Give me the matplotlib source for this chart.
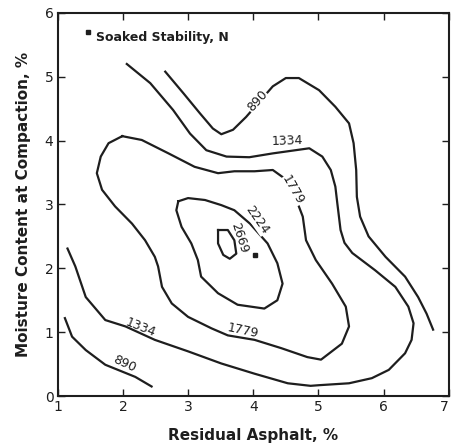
import matplotlib.pyplot as plt

# contour lines, (residual asphalt %, moisture %)
c890_upper_x = [2.65, 2.93, 3.18, 3.38, 3.51, 3.69, 3.89, 4.30, 4.50, 4.70, 5.01, 5.26, 5.47, 5.54, 5.58, 5.59, 5.64, 5.77, 6.03, 6.33, 6.53, 6.66, 6.76]
c890_upper_y = [5.08, 4.74, 4.43, 4.19, 4.10, 4.17, 4.37, 4.85, 4.98, 4.98, 4.79, 4.53, 4.27, 3.96, 3.54, 3.12, 2.81, 2.50, 2.18, 1.87, 1.55, 1.29, 1.04]

c890_lower_x = [1.11, 1.22, 1.43, 1.73, 2.19, 2.44]
c890_lower_y = [1.22, 0.93, 0.72, 0.49, 0.30, 0.15]

c1334_x = [2.06, 2.42, 2.77, 3.03, 3.28, 3.59, 3.94, 4.30, 4.86, 5.06, 5.19, 5.26, 5.29, 5.34, 5.40, 5.52, 5.87, 6.18, 6.38, 6.46, 6.43, 6.33, 6.08, 5.82, 5.47, 5.01, 4.88, 4.53, 4.02, 3.51, 3.00, 2.49, 2.04, 1.73, 1.43, 1.27, 1.15]
c1334_y = [5.20, 4.90, 4.48, 4.11, 3.85, 3.75, 3.74, 3.80, 3.88, 3.75, 3.54, 3.28, 3.02, 2.60, 2.40, 2.24, 1.97, 1.71, 1.40, 1.14, 0.88, 0.67, 0.41, 0.28, 0.20, 0.17, 0.16, 0.20, 0.35, 0.51, 0.70, 0.88, 1.09, 1.19, 1.55, 2.03, 2.31]

c1779_x = [1.99, 1.78, 1.66, 1.60, 1.68, 1.88, 2.14, 2.34, 2.49, 2.54, 2.60, 2.75, 3.00, 3.36, 3.61, 4.02, 4.43, 4.83, 5.04, 5.36, 5.47, 5.42, 5.21, 4.96, 4.81, 4.76, 4.70, 4.45, 4.30, 4.02, 3.71, 3.46, 3.10, 2.70, 2.29, 1.99]
c1779_y = [4.07, 3.96, 3.75, 3.49, 3.23, 2.97, 2.70, 2.44, 2.18, 2.03, 1.71, 1.45, 1.24, 1.06, 0.95, 0.88, 0.75, 0.61, 0.57, 0.82, 1.09, 1.40, 1.76, 2.13, 2.44, 2.81, 2.97, 3.43, 3.54, 3.52, 3.52, 3.49, 3.59, 3.80, 4.01, 4.07]

c2224_x = [2.85, 3.00, 3.26, 3.51, 3.71, 3.95, 4.22, 4.37, 4.45, 4.37, 4.17, 3.76, 3.46, 3.20, 3.15, 3.05, 2.90, 2.82, 2.85]
c2224_y = [3.05, 3.10, 3.07, 2.99, 2.91, 2.70, 2.39, 2.08, 1.76, 1.50, 1.37, 1.43, 1.61, 1.87, 2.13, 2.39, 2.65, 2.91, 3.05]

c2669_x = [3.46, 3.61, 3.71, 3.74, 3.64, 3.54, 3.46, 3.46]
c2669_y = [2.60, 2.60, 2.44, 2.23, 2.15, 2.21, 2.39, 2.60]

# measured point of max soaked stability
peak_x = [4.02]
peak_y = [2.21]

ink = '#1e1e1e'

fig = plt.figure(figsize=(4.51, 4.45), dpi=100)
ax = fig.add_axes([0.128, 0.110, 0.867, 0.861])

for xs, ys in [(c890_upper_x, c890_upper_y), (c890_lower_x, c890_lower_y),
               (c1334_x, c1334_y), (c1779_x, c1779_y),
               (c2224_x, c2224_y), (c2669_x, c2669_y)]:
    ax.plot(xs, ys, color=ink, lw=1.6, solid_joinstyle='round')

ax.plot(peak_x, peak_y, 's', color=ink, ms=3)

# contour labels
lab = dict(fontsize=9, color=ink, ha='center', va='center')
wbox = dict(fc='white', ec='none', pad=0.3)
ax.text(4.06, 4.62, '890', rotation=48, bbox=wbox, **lab)
ax.text(4.52, 4.00, '1334', rotation=2, **lab)
ax.text(4.60, 3.22, '1779', rotation=-60, bbox=wbox, **lab)
ax.text(4.06, 2.76, '2224', rotation=-55, bbox=wbox, **lab)
ax.text(3.78, 2.47, '2669', rotation=-72, **lab)
ax.text(2.27, 1.07, '1334', rotation=-22, **lab)
ax.text(3.84, 1.02, '1779', rotation=-12, **lab)
ax.text(2.03, 0.50, '890', rotation=-25, **lab)

ax.plot([1.46], [5.70], 's', color=ink, ms=3)
ax.text(1.58, 5.62, 'Soaked Stability, N', fontsize=9, color=ink,
        ha='left', va='center', fontweight='bold')

ax.set_xlim(1, 7)
ax.set_ylim(0, 6)
ax.set_xticks([1, 2, 3, 4, 5, 6, 7])
ax.set_yticks([0, 1, 2, 3, 4, 5, 6])
ax.tick_params(direction='in', top=True, right=True, length=5, width=1,
               labelsize=10, colors=ink, pad=3)
ax.get_xticklabels()[-1].set_horizontalalignment('right')
for s in ax.spines.values():
    s.set_linewidth(1.5)
    s.set_color(ink)

ax.set_xlabel('Residual Asphalt, %', fontsize=11, fontweight='bold', color=ink, labelpad=10)
ax.set_ylabel('Moisture Content at Compaction, %', fontsize=11, fontweight='bold', color=ink, labelpad=10)

fig.savefig('out.png', dpi=100)
